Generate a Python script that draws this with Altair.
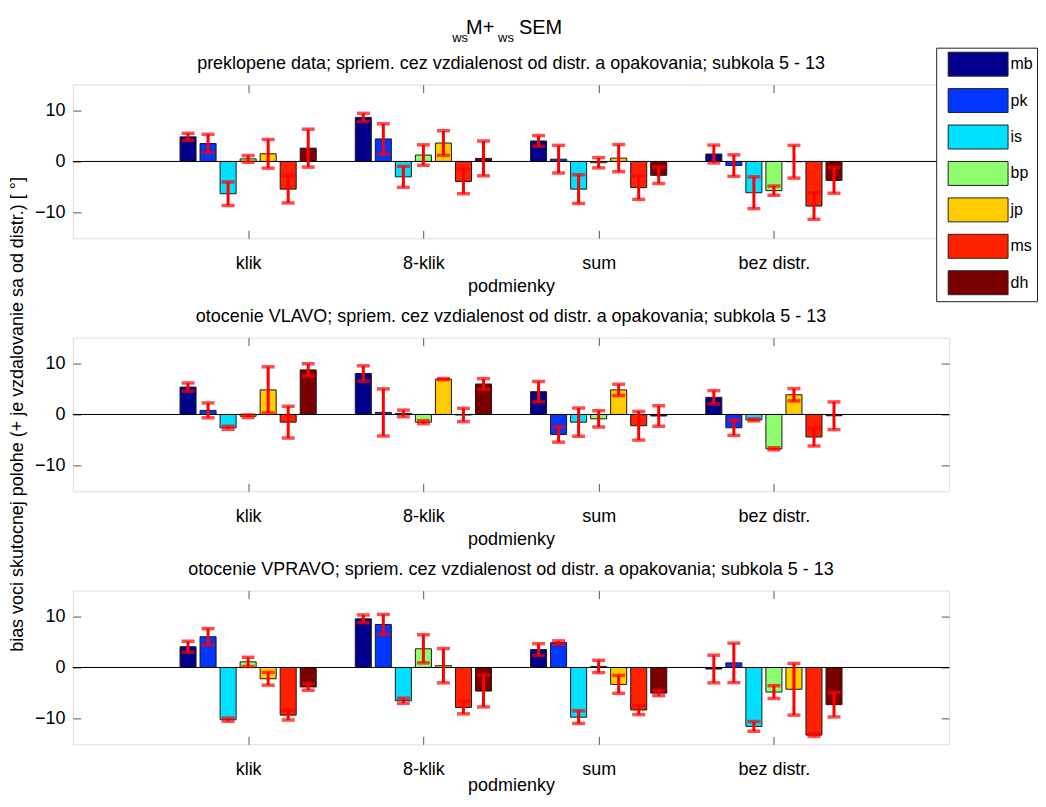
import json
import altair as alt
import pandas as pd

# ---------------- data ----------------
CONDITIONS = ["klik", "8-klik", "sum", "bez distr."]
SUBJECTS = ["mb", "pk", "is", "bp", "jp", "ms", "dh"]
COLORS = ["#00008c", "#0036ff", "#00e1ff", "#8fff70", "#ffcc00", "#ff2200", "#7a0000"]

# panel 1: preklopene data  (rows = conditions, columns = subjects)
P1_MEAN = [
    [4.8, 3.5, -6.3, 0.5, 1.5, -5.4, 2.6],
    [8.6, 4.4, -3.0, 1.25, 3.6, -3.9, 0.6],
    [4.0, 0.45, -5.4, -0.25, 0.65, -5.1, -2.7],
    [1.45, -0.8, -6.1, -5.7, -0.05, -8.7, -3.7],
]
P1_SEM = [
    [0.7, 1.8, 2.3, 0.65, 2.8, 2.7, 3.7],
    [0.8, 2.95, 2.05, 2.0, 2.4, 2.4, 3.4],
    [1.05, 2.7, 2.8, 1.0, 2.65, 2.3, 1.6],
    [1.75, 2.1, 3.1, 0.9, 3.2, 2.6, 2.5],
]
# panel 2: otocenie VLAVO
P2_MEAN = [
    [5.35, 0.8, -2.6, -0.35, 4.8, -1.5, 8.7],
    [8.0, 0.4, 0.2, -1.5, 6.9, -0.1, 5.95],
    [4.45, -3.9, -1.5, -0.85, 4.8, -2.2, -0.3],
    [3.35, -2.6, -1.05, -6.7, 3.85, -4.4, -0.25],
]
P2_SEM = [
    [0.8, 1.45, 0.3, 0.25, 4.5, 3.1, 1.2],
    [1.5, 4.6, 0.65, 0.3, 0.12, 1.3, 1.05],
    [2.0, 1.5, 2.75, 1.6, 1.1, 2.8, 2.0],
    [1.3, 1.5, 0.2, 0.2, 1.2, 1.75, 2.7],
]
# panel 3: otocenie VPRAVO
P3_MEAN = [
    [4.05, 6.0, -10.2, 1.1, -2.2, -9.3, -3.8],
    [9.5, 8.4, -6.5, 3.65, 0.35, -7.8, -4.6],
    [3.5, 4.85, -9.7, 0.2, -3.3, -8.3, -5.0],
    [-0.3, 0.9, -11.5, -4.8, -4.25, -13.2, -7.25],
]
P3_SEM = [
    [1.07, 1.6, 0.3, 0.9, 1.25, 0.95, 0.65],
    [0.75, 1.95, 0.5, 2.75, 3.35, 1.25, 3.1],
    [1.15, 0.35, 1.25, 1.2, 1.75, 0.9, 0.5],
    [2.7, 3.85, 0.95, 1.25, 5.05, 0.25, 2.4],
]

PANEL_TITLES = [
    "preklopene data; spriem. cez vzdialenost od distr. a opakovania; subkola 5 - 13",
    "otocenie VLAVO; spriem. cez vzdialenost od distr. a opakovania; subkola 5 - 13",
    "otocenie VPRAVO; spriem. cez vzdialenost od distr. a opakovania; subkola 5 - 13",
]
MAIN_TITLE_PARTS = ["ws", "M+", "ws", "SEM"]
X_TITLE = "podmienky"
Y_TITLE = "bias voci skutocnej polohe (+ je vzdalovanie sa od distr.) [ °]"
Y_TICKS = [-10, 0, 10]
X_TICKS = [1, 2, 3, 4]

# ---------------- layout / style ----------------
FONT = "Liberation Sans"
W, H = 878, 154
GROUP_W = 0.8
N = len(SUBJECTS)
BAR_W = GROUP_W / N * 0.8
FRAME = "#555555"
ERR = "#ff0000"

XS = alt.Scale(domain=[0, 5], nice=False, zero=False)
YS = alt.Scale(domain=[-15, 15], nice=False, zero=False)
CS = alt.Scale(domain=SUBJECTS, range=COLORS)
LABEL_EXPR = f"{json.dumps(CONDITIONS)}[datum.value - 1]"


def frame(means, sems):
    rows = []
    for ci, cond in enumerate(CONDITIONS):
        for si, subj in enumerate(SUBJECTS):
            rows.append({"cond": cond, "ci": ci + 1, "subj": subj, "si": si,
                         "mean": means[ci][si], "sem": sems[ci][si]})
    return pd.DataFrame(rows)


def text_layer(txt, x, y, size, align="center", baseline="alphabetic", angle=0):
    kw = dict(align=align, baseline=baseline, fontSize=size, font=FONT, color="black")
    if angle:
        kw["angle"] = angle
    return alt.Chart(pd.DataFrame({"t": [txt]})).mark_text(**kw).encode(
        x=alt.value(x), y=alt.value(y), text="t:N")


def panel(means, sems, title, legend, extra, title_pad=5):
    base = alt.Chart(frame(means, sems)).transform_calculate(
        xc=f"datum.ci + (datum.si - {(N - 1) / 2}) * {GROUP_W} / {N}",
        lo="datum.mean - datum.sem",
        hi="datum.mean + datum.sem",
    ).transform_calculate(
        x0=f"datum.xc - {BAR_W / 2}",
        x1=f"datum.xc + {BAR_W / 2}",
    )
    bottom_axis = alt.Axis(orient="bottom", values=X_TICKS, labelExpr=LABEL_EXPR,
                           tickSize=8, offset=-8, domain=False, grid=False,
                           tickColor=FRAME, labelColor="black", labelFont=FONT,
                           labelFontSize=18, labelPadding=16,
                           title=X_TITLE, titleFont=FONT, titleFontSize=18,
                           titleFontWeight="normal", titleColor="black",
                           titlePadding=title_pad)
    left_axis = alt.Axis(orient="left", values=Y_TICKS, tickSize=8, offset=-8,
                         domain=False, grid=False, tickColor=FRAME, labelColor="black",
                         labelFont=FONT, labelFontSize=18, labelPadding=8, title=None)
    top_axis = alt.Axis(orient="top", values=X_TICKS, tickSize=8, offset=-8, labels=False,
                        domain=False, grid=False, tickColor=FRAME, title=None)
    right_axis = alt.Axis(orient="right", values=Y_TICKS, tickSize=8, offset=-8, labels=False,
                          domain=False, grid=False, tickColor=FRAME, title=None)

    bars = base.mark_bar(stroke="#1a1a1a", strokeWidth=1).encode(
        x=alt.X("x0:Q", scale=XS, axis=bottom_axis),
        x2="x1:Q",
        y=alt.Y("mean:Q", scale=YS, axis=left_axis, stack=None),
        y2=alt.datum(0),
        color=alt.Color("subj:N", scale=CS, legend=legend),
    )
    zero = alt.Chart(pd.DataFrame({"z": [0]})).mark_rule(color="black", strokeWidth=1).encode(
        y=alt.Y("z:Q", scale=YS, axis=None))
    err = base.mark_rule(color=ERR, strokeWidth=3).encode(
        x=alt.X("xc:Q", scale=XS, axis=top_axis),
        y=alt.Y("lo:Q", scale=YS, axis=right_axis),
        y2="hi:Q",
    )
    cap_lo = base.mark_tick(color=ERR, orient="horizontal", size=13, thickness=3.5).encode(
        x=alt.X("xc:Q", scale=XS, axis=None), y=alt.Y("lo:Q", scale=YS, axis=None))
    cap_hi = base.mark_tick(color=ERR, orient="horizontal", size=13, thickness=3.5).encode(
        x=alt.X("xc:Q", scale=XS, axis=None), y=alt.Y("hi:Q", scale=YS, axis=None))
    ttl = text_layer(title, W / 2, -15.5, 18)
    return alt.layer(bars, zero, err, cap_lo, cap_hi, ttl, *extra).resolve_axis(
        x="independent", y="independent").properties(width=W, height=H)


legend = alt.Legend(orient="none", legendX=865, legendY=-37, title=None,
                    symbolType="M-2.5,-1H2.5V1H-2.5Z", symbolSize=576, symbolOffset=25.5,
                    symbolStrokeColor="#222222", symbolStrokeWidth=1, symbolOpacity=1,
                    labelFont=FONT, labelFontSize=16, labelColor="black", labelOffset=20,
                    labelLimit=200, rowPadding=7.5, columnPadding=0, padding=4,
                    strokeColor="#222222", fillColor="white", direction="vertical")

main_title = [
    text_layer(MAIN_TITLE_PARTS[0], 380, -43, 13, align="left"),
    text_layer(MAIN_TITLE_PARTS[1], 394, -50.5, 20, align="left"),
    text_layer(MAIN_TITLE_PARTS[2], 426, -43, 13, align="left"),
    text_layer(MAIN_TITLE_PARTS[3], 447, -50.5, 20, align="left"),
]
y_title = [text_layer(Y_TITLE, -49.5, H / 2, 18, angle=270)]

p1 = panel(P1_MEAN, P1_SEM, PANEL_TITLES[0], legend, main_title)
p2 = panel(P2_MEAN, P2_SEM, PANEL_TITLES[1], None, y_title)
p3 = panel(P3_MEAN, P3_SEM, PANEL_TITLES[2], None, [], title_pad=-2)

chart = alt.vconcat(p1, p2, p3, spacing=99.5, bounds="flush").resolve_legend(
    color="independent"
).properties(
    padding={"left": 0, "top": 9, "right": 0, "bottom": 0},
).configure_view(stroke=FRAME, strokeWidth=1).configure(font=FONT)

chart.save("out.html", embed_options={"renderer": "svg", "actions": False})
